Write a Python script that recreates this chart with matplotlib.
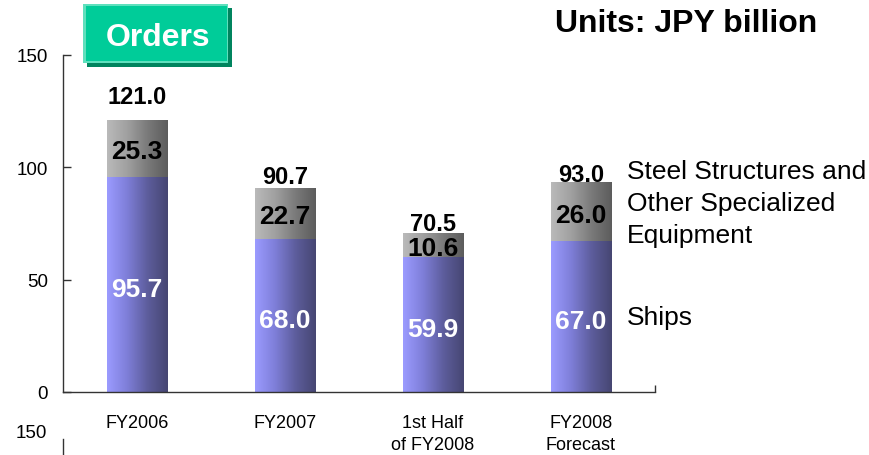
import numpy as np
import matplotlib
matplotlib.use("Agg")
import matplotlib.pyplot as plt
from matplotlib.colors import LinearSegmentedColormap
from matplotlib.patches import Rectangle
from matplotlib.lines import Line2D

plt.rcParams['font.family'] = ['Liberation Sans', 'DejaVu Sans']

# data
categories = ["FY2006", "FY2007", "1st Half\nof FY2008", "FY2008\nForecast"]
ships = [95.7, 68.0, 59.9, 67.0]
steel = [25.3, 22.7, 10.6, 26.0]
totals = [121.0, 90.7, 70.5, 93.0]
total_pad = [10.5, 5.0, 4.3, 4.0]   # gap above each bar for the total label

# colour ramps (left -> right across each bar)
ship_cmap = LinearSegmentedColormap.from_list(
    "ships", ["#9b9bff", "#7e7ed8", "#5d5d9c", "#464672"])
steel_cmap = LinearSegmentedColormap.from_list(
    "steel", ["#bababa", "#a0a0a0", "#7a7a7a", "#5c5c5c"])
grad = np.linspace(0, 1, 256).reshape(1, -1)

fig = plt.figure(figsize=(8.7, 4.56), dpi=100)
ax = fig.add_axes([63 / 870, 1 - 393 / 456, (655 - 63) / 870, 337 / 456])

x = np.arange(len(categories))
width = 0.41

# invisible bars, then a gradient painted inside each one
ship_bars = ax.bar(x, ships, width, color='none', zorder=2)
steel_bars = ax.bar(x, steel, width, bottom=ships, color='none', zorder=2)
for bars, cmap in ((ship_bars, ship_cmap), (steel_bars, steel_cmap)):
    for b in bars:
        x0, y0 = b.get_x(), b.get_y()
        ax.imshow(grad, cmap=cmap, aspect='auto', zorder=2,
                  extent=[x0, x0 + b.get_width(), y0, y0 + b.get_height()])

# value labels
for i in range(len(categories)):
    ax.text(x[i], ships[i] / 2 - 2, "%.1f" % ships[i], ha='center', va='center',
            color='white', fontsize=19, fontweight='bold', zorder=3)
    ax.text(x[i], ships[i] + steel[i] / 2 - 1, "%.1f" % steel[i], ha='center', va='center',
            color='black', fontsize=19, fontweight='bold', zorder=3)
    ax.text(x[i], totals[i] + total_pad[i], "%.1f" % totals[i], ha='center', va='center',
            color='black', fontsize=17, fontweight='bold', zorder=3)

ax.set_xlim(-0.5, 3.5)
ax.set_ylim(0, 150)
ax.set_yticks([0, 50, 100, 150])
ax.set_xticks(x)
ax.set_xticklabels(categories, fontsize=13, linespacing=1.4)
ax.set_xticks([3.5], minor=True)
ax.tick_params(axis='x', which='major', length=0, pad=16)
ax.tick_params(axis='x', which='minor', direction='in', length=5, width=1, color='#333333')
ax.tick_params(axis='y', direction='in', length=6, width=1, color='#333333',
               labelsize=13.5, pad=11)
for s in ('top', 'right'):
    ax.spines[s].set_visible(False)
for s in ('left', 'bottom'):
    ax.spines[s].set_color('#333333')
    ax.spines[s].set_linewidth(1)

# "Orders" tag box (figure pixels)
def px(xp, yp):
    return xp / 870, 1 - yp / 456

fig.patches.append(Rectangle(px(87, 68), 145 / 870, 59 / 456, transform=fig.transFigure,
                             facecolor='#00845e', edgecolor='none'))
fig.patches.append(Rectangle(px(83, 64), 145 / 870, 59 / 456, transform=fig.transFigure,
                             facecolor='#5fe0bd', edgecolor='none'))
fig.patches.append(Rectangle(px(86, 62), 141 / 870, 55 / 456, transform=fig.transFigure,
                             facecolor='#00cc99', edgecolor='none'))
fig.text(*px(158, 38), "Orders", ha='center', va='center', color='white',
         fontsize=23, fontweight='bold')

fig.text(*px(686, 24), "Units: JPY billion", ha='center', va='center',
         fontsize=23, fontweight='bold')

# series names on the right
fig.text(*px(627, 204), "Steel Structures and\nOther Specialized\nEquipment",
         ha='left', va='center', fontsize=19, linespacing=1.4)
fig.text(*px(627, 318), "Ships", ha='left', va='center', fontsize=19)

# piece of the next chart peeking in at the bottom
fig.text(*px(47, 434), "150", ha='right', va='center', fontsize=13.5)
fig.lines.append(Line2D([63 / 870, 63 / 870], [0, 1 - 440 / 456],
                        transform=fig.transFigure, color='#333333', linewidth=1))

fig.savefig("out.png", dpi=100)
